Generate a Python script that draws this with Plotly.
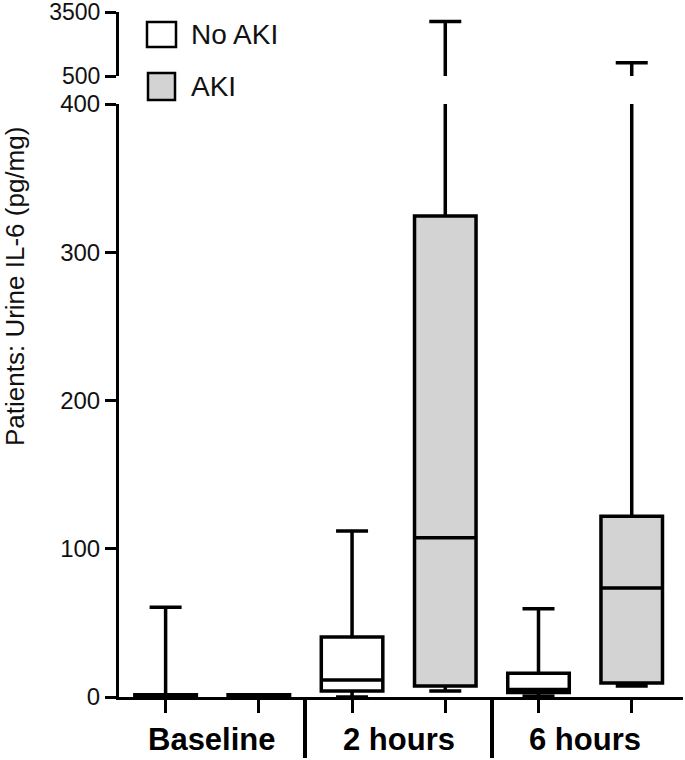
import plotly.graph_objects as go

# ---- data ----
groups = ["Baseline", "2 hours", "6 hours"]
series = ["No AKI", "AKI"]

noaki_q1 = [0, 4, 3]
noaki_median = [1, 11.5, 5]
noaki_q3 = [1.5, 40.5, 16]
noaki_low = [0, 0, 0.5]
noaki_high = [60.5, 112, 59.5]

aki_q1 = [0, 7.5, 9.5]
aki_median = [1, 107.5, 73.5]
aki_q3 = [1.5, 324.5, 122]
aki_low = [0, 4, 7.5]
aki_high = [1.5, 3050, 1120]

lower_ticks = [0, 100, 200, 300, 400]
upper_ticks = [500, 3500]
y_title = "Patients: Urine IL-6 (pg/mg)"

# ---- layout helpers (pixel -> paper) ----
W, H = 685, 760
ML, MR, MT, MB = 119, 2, 12, 63
PW, PH = W - ML - MR, H - MT - MB


def px(x):
    return (x - ML) / PW


def py(y):
    return (H - MB - y) / PH


FONT = "Liberation Sans, Arial, sans-serif"
fills = ["#ffffff", "#d3d3d3"]

no_x = [2 * i for i in range(len(groups))]
aki_x = [2 * i + 1 for i in range(len(groups))]

fig = go.Figure()
for xa, ya in [("x", "y"), ("x2", "y2")]:
    fig.add_trace(go.Box(
        x=no_x, q1=noaki_q1, median=noaki_median, q3=noaki_q3,
        lowerfence=noaki_low, upperfence=noaki_high,
        name=series[0], fillcolor=fills[0],
        line=dict(color="black", width=3.5), width=0.66, whiskerwidth=0.52,
        boxpoints=False, showlegend=False, xaxis=xa, yaxis=ya, hoverinfo="skip"))
    fig.add_trace(go.Box(
        x=aki_x, q1=aki_q1, median=aki_median, q3=aki_q3,
        lowerfence=aki_low, upperfence=aki_high,
        name=series[1], fillcolor=fills[1],
        line=dict(color="black", width=3.5), width=0.66, whiskerwidth=0.52,
        boxpoints=False, showlegend=False, xaxis=xa, yaxis=ya, hoverinfo="skip"))

# dummy trace to activate separator axis
fig.add_trace(go.Scatter(x=[1.5], y=[None], xaxis="x3", yaxis="y",
                         showlegend=False, hoverinfo="skip", mode="markers"))

xr = [-0.5, 5.55]
lower_top = py(104)
upper_bot = py(76)

fig.update_layout(
    width=W, height=H,
    margin=dict(l=ML, r=MR, t=MT, b=MB, autoexpand=False),
    paper_bgcolor="white", plot_bgcolor="white",
    boxmode="overlay",
    font=dict(family=FONT, color="#111", size=24),
    xaxis=dict(domain=[0, 1], range=xr, anchor="y", automargin=False,
               tickvals=list(range(6)), ticktext=[""] * 6,
               ticks="outside", ticklen=13, tickwidth=3, tickcolor="black",
               showline=True, linewidth=3, linecolor="black",
               showgrid=False, zeroline=False),
    xaxis2=dict(domain=[0, 1], range=xr, anchor="y2", visible=False,
                automargin=False),
    xaxis3=dict(overlaying="x", anchor="y", side="bottom", range=xr,
                automargin=False,
                tickvals=[1.5, 3.5], ticktext=["", ""],
                ticks="outside", ticklen=60, tickwidth=4, tickcolor="black",
                showline=False, showgrid=False, zeroline=False),
    yaxis=dict(domain=[0, lower_top], range=[0, 400], anchor="x",
               automargin=False, ticklabeloverflow="allow",
               tickvals=lower_ticks, ticks="outside", ticklen=11, tickwidth=3,
               tickcolor="black", showline=True, linewidth=3, linecolor="black",
               showgrid=False, zeroline=False, tickfont=dict(size=24)),
    yaxis2=dict(domain=[upper_bot, 1], range=[500, 3500], anchor="x2",
                automargin=False, ticklabeloverflow="allow",
                tickvals=upper_ticks, ticks="outside", ticklen=11, tickwidth=3,
                tickcolor="black", showline=True, linewidth=3, linecolor="black",
                showgrid=False, zeroline=False, tickfont=dict(size=23)),
)

annotations = []
for i, g in enumerate(groups):
    annotations.append(dict(
        text=g, x=2 * i + 0.5, xref="x", y=py(739), yref="paper",
        showarrow=False, xanchor="center", yanchor="middle",
        font=dict(size=31, family=FONT, color="black", weight="bold")))

annotations.append(dict(
    text=y_title, x=px(15), xref="paper", y=py(287), yref="paper",
    textangle=-90, showarrow=False, xanchor="center", yanchor="middle",
    font=dict(size=26, family=FONT, color="#111")))

# manual legend
legend_rows = [(22, 47, 147, 176), (73, 100, 148, 175)]
shapes = []
for (y0, y1, x0, x1), name, fc in zip(legend_rows, series, fills):
    shapes.append(dict(type="rect", xref="paper", yref="paper",
                       x0=px(x0), x1=px(x1), y0=py(y1), y1=py(y0),
                       fillcolor=fc, line=dict(color="black", width=2.5)))
    annotations.append(dict(
        text=name, x=px(189), xref="paper", y=py((y0 + y1) / 2), yref="paper",
        showarrow=False, xanchor="left", yanchor="middle",
        font=dict(size=28, family=FONT, color="#111")))

fig.update_layout(annotations=annotations, shapes=shapes)

fig.write_html(
    "out.html",
    config={"displayModeBar": False},
    post_script="document.body.style.margin='0';document.body.style.overflow='hidden';",
)
